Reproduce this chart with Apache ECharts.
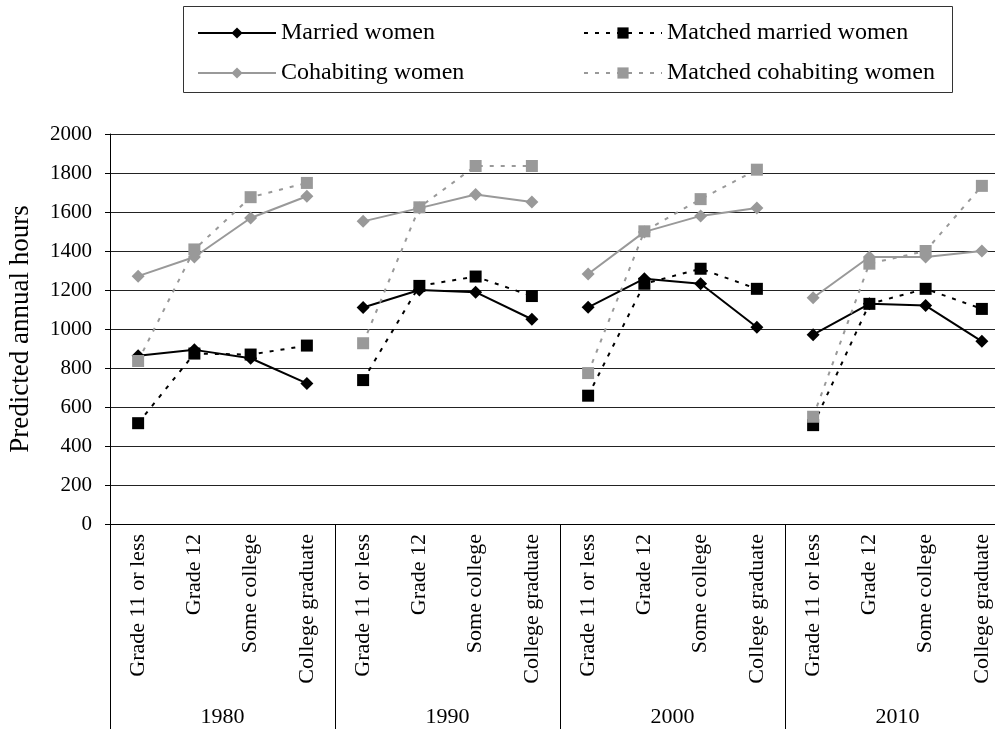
<!DOCTYPE html>
<html>
<head>
<meta charset="utf-8">
<script src="https://cdn.jsdelivr.net/npm/echarts@6/dist/echarts.min.js"></script>
<style>
  html, body { margin: 0; padding: 0; background: #fff; }
  #chart { width: 995px; height: 729px; }
</style>
</head>
<body>
<div id="chart"></div>
<script>
// categories: education levels repeated per survey year
var levels = ['Grade 11 or less', 'Grade 12', 'Some college', 'College graduate'];
var years = ['1980', '1990', '2000', '2010'];
var categories = [].concat(levels, levels, levels, levels);
var yTicks = { min: 0, max: 2000, step: 200 };

// predicted annual hours, 4 levels x 4 years
var married        = [863, 893, 850, 721, 1110, 1200, 1189, 1050, 1111, 1258, 1232, 1009, 971, 1129, 1120, 937];
var matchedMarried = [517, 874, 869, 915, 738, 1221, 1269, 1169, 658, 1232, 1309, 1206, 507, 1129, 1206, 1103];
var cohabiting     = [1271, 1369, 1569, 1681, 1552, 1620, 1690, 1651, 1282, 1498, 1580, 1620, 1160, 1369, 1369, 1400];
var matchedCohab   = [836, 1408, 1676, 1749, 927, 1624, 1836, 1836, 774, 1501, 1666, 1817, 550, 1335, 1400, 1734];

var font = 'Liberation Serif, Times New Roman, serif';
var black = '#000';
var gray = '#999';

// one line per year so the groups are not joined
function groupSeries(name, values, color, dashed, symbol, size) {
  var out = [];
  years.forEach(function(y, g) {
    out.push({
      name: name,
      type: 'line',
      data: values.map(function(v, i) { return Math.floor(i / 4) === g ? v : '-'; }),
      symbol: symbol,
      symbolSize: size,
      itemStyle: { color: color },
      lineStyle: { color: color, width: 2, type: dashed ? [4, 7] : 'solid' }
    });
  });
  return out;
}

var series = [].concat(
  groupSeries('Married women', married, black, false, 'diamond', 13),
  groupSeries('Matched married women', matchedMarried, black, true, 'rect', 12),
  groupSeries('Cohabiting women', cohabiting, gray, false, 'diamond', 13),
  groupSeries('Matched cohabiting women', matchedCohab, gray, true, 'rect', 12)
);

var chart = echarts.init(document.getElementById('chart'), null, { renderer: 'canvas' });

var legendText = { color: black, fontSize: 24, fontFamily: font, lineHeight: 24 };

chart.setOption({
  animation: false,
  backgroundColor: '#fff',
  legend: [
    {
      data: ['Married women', 'Cohabiting women'],
      orient: 'vertical',
      left: 192, top: 16,
      itemWidth: 78, itemHeight: 14, itemGap: 16,
      textStyle: legendText
    },
    {
      data: ['Matched married women', 'Matched cohabiting women'],
      orient: 'vertical',
      left: 578, top: 16,
      itemWidth: 78, itemHeight: 14, itemGap: 16,
      textStyle: legendText
    }
  ],
  graphic: [{
    type: 'rect',
    shape: { x: 183.5, y: 6.5, width: 769, height: 86 },
    style: { fill: 'none', stroke: '#333', lineWidth: 1 }
  }],
  grid: { left: 110, top: 134, width: 900, height: 390, outerBoundsMode: 'none', containLabel: false },
  xAxis: [
    {
      type: 'category',
      data: categories,
      axisLine: { lineStyle: { color: black, width: 1 } },
      axisTick: { show: false },
      axisLabel: {
        interval: 0, rotate: 90, margin: 10,
        color: black, fontSize: 22, fontFamily: font
      }
    },
    {
      type: 'category',
      data: years,
      position: 'bottom',
      axisLine: { show: false },
      axisTick: { show: true, interval: 0, length: 205, lineStyle: { color: black } },
      axisLabel: { interval: 0, margin: 182, color: black, fontSize: 22, fontFamily: font },
      splitLine: { show: false }
    }
  ],
  yAxis: {
    type: 'value',
    min: yTicks.min, max: yTicks.max, interval: yTicks.step,
    name: 'Predicted annual hours',
    nameLocation: 'middle',
    nameGap: 76,
    nameTextStyle: { color: black, fontSize: 27, fontFamily: font },
    axisLine: { show: true, lineStyle: { color: black } },
    axisTick: { show: true, length: 5, lineStyle: { color: black } },
    axisLabel: {
      color: black, fontSize: 21, fontFamily: font, margin: 18,
      formatter: function(v) { return String(v); }
    },
    splitLine: { lineStyle: { color: '#222', width: 1 } }
  },
  series: series
});
</script>
</body>
</html>
